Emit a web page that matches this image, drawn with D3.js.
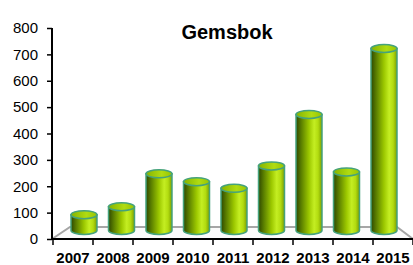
<!DOCTYPE html>
<html lang="en">
<head>
    <meta charset="UTF-8">
    <script src="https://cdn.jsdelivr.net/npm/d3@7"></script>
    <title>Gemsbok</title>
    <style>
        body {
            margin: 0;
            background: #ffffff;
        }

        text {
            font-family: 'Liberation Sans', Arial, sans-serif;
            fill: #000;
        }
    </style>
</head>

<body>
    <div class="chart"></div>

    <script>
        const years = ["2007", "2008", "2009", "2010", "2011", "2012", "2013", "2014", "2015"];
        const counts = [60, 90, 215, 185, 160, 245, 440, 222, 690];
        const yTicks = [0, 100, 200, 300, 400, 500, 600, 700, 800];

        const width = 413;
        const height = 265;

        // depth offset of the bars (they stand inside the 3d floor)
        const depthY = -8.5;
        const ry = 4;

        const svg = d3.select(".chart").append("svg")
            .attr("width", width)
            .attr("height", height);

        const defs = svg.append("defs");

        const bodyGrad = defs.append("linearGradient")
            .attr("id", "body")
            .attr("x1", "0%").attr("x2", "100%")
            .attr("y1", "0%").attr("y2", "0%");
        [["0%", "#2f4800"], ["20%", "#5a7e00"], ["50%", "#9cc800"], ["70%", "#c4ee22"], ["85%", "#b2dc10"], ["100%", "#7c9e00"]]
            .forEach(s => bodyGrad.append("stop").attr("offset", s[0]).attr("stop-color", s[1]));

        const topGrad = defs.append("linearGradient")
            .attr("id", "top")
            .attr("x1", "0%").attr("x2", "100%")
            .attr("y1", "0%").attr("y2", "0%");
        [["0%", "#86b400"], ["60%", "#b0dc12"], ["100%", "#98c400"]]
            .forEach(s => topGrad.append("stop").attr("offset", s[0]).attr("stop-color", s[1]));

        const y = d3.scaleLinear()
            .domain([0, 800])
            .range([239, 28]);

        // front edge of the floor, where the category ticks sit
        const xFront = d3.scaleBand()
            .domain(years)
            .range([53, 413]);

        // plane where the cylinders stand
        const xBar = d3.scaleBand()
            .domain(years)
            .range([71, 397])
            .paddingInner(0.307)
            .paddingOuter(0);

        // floor
        svg.append("path")
            .attr("d", `M52,239 L70,227 L397,227 L413,239`)
            .attr("fill", "#fbfbfb")
            .attr("stroke", "#a6a6a6")
            .attr("stroke-width", 2);

        // cylinders
        const bw = xBar.bandwidth();
        const rx = bw / 2;
        const base = y(0) + depthY;

        const bars = svg.selectAll(".bar")
            .data(years)
            .enter()
            .append("g")
            .attr("class", "bar");

        bars.append("path")
            .attr("d", (d, i) => {
                const x0 = xBar(d);
                const x1 = x0 + bw;
                const top = y(counts[i]) + depthY;
                return `M${x0},${top} L${x0},${base} A${rx},${ry} 0 0 0 ${x1},${base} L${x1},${top} Z`;
            })
            .attr("fill", "url(#body)")
            .attr("stroke", "#45a27c")
            .attr("stroke-width", 1.5);

        bars.append("ellipse")
            .attr("cx", d => xBar(d) + rx)
            .attr("cy", (d, i) => y(counts[i]) + depthY)
            .attr("rx", rx)
            .attr("ry", ry)
            .attr("fill", "url(#top)")
            .attr("stroke", "#45a27c")
            .attr("stroke-width", 1.5);

        // y axis
        const yAxis = svg.append("g")
            .attr("transform", "translate(52,0)")
            .call(d3.axisLeft(y).tickValues(yTicks).tickSize(5).tickPadding(9).tickFormat(d3.format("d")));
        yAxis.select(".domain").attr("stroke", "#000").attr("stroke-width", 2).attr("d", "M0,28V239");
        yAxis.selectAll(".tick line").attr("stroke", "#000").attr("stroke-width", 1.5);
        yAxis.selectAll(".tick text")
            .attr("font-size", "15px")
            .attr("font-family", "'Liberation Sans', Arial, sans-serif")
            .attr("fill", "#000");

        // x axis (front edge of floor)
        const xAxis = svg.append("g");
        xAxis.append("line")
            .attr("x1", 52).attr("x2", 413)
            .attr("y1", 239).attr("y2", 239)
            .attr("stroke", "#000")
            .attr("stroke-width", 2);

        const tickPos = years.map(d => xFront(d)).concat([xFront.range()[1]]);
        xAxis.selectAll(".xtick")
            .data(tickPos)
            .enter()
            .append("line")
            .attr("x1", d => d).attr("x2", d => d)
            .attr("y1", 239).attr("y2", 245)
            .attr("stroke", "#000")
            .attr("stroke-width", 1.5);

        xAxis.selectAll(".xlabel")
            .data(years)
            .enter()
            .append("text")
            .attr("x", d => xFront(d) + xFront.bandwidth() / 2)
            .attr("y", 263)
            .attr("text-anchor", "middle")
            .attr("font-size", "15px")
            .attr("font-weight", "bold")
            .text(d => d);

        // title
        svg.append("text")
            .attr("x", 227)
            .attr("y", 39)
            .attr("text-anchor", "middle")
            .attr("font-size", "20px")
            .attr("font-weight", "bold")
            .text("Gemsbok");
    </script>
</body>
</html>
